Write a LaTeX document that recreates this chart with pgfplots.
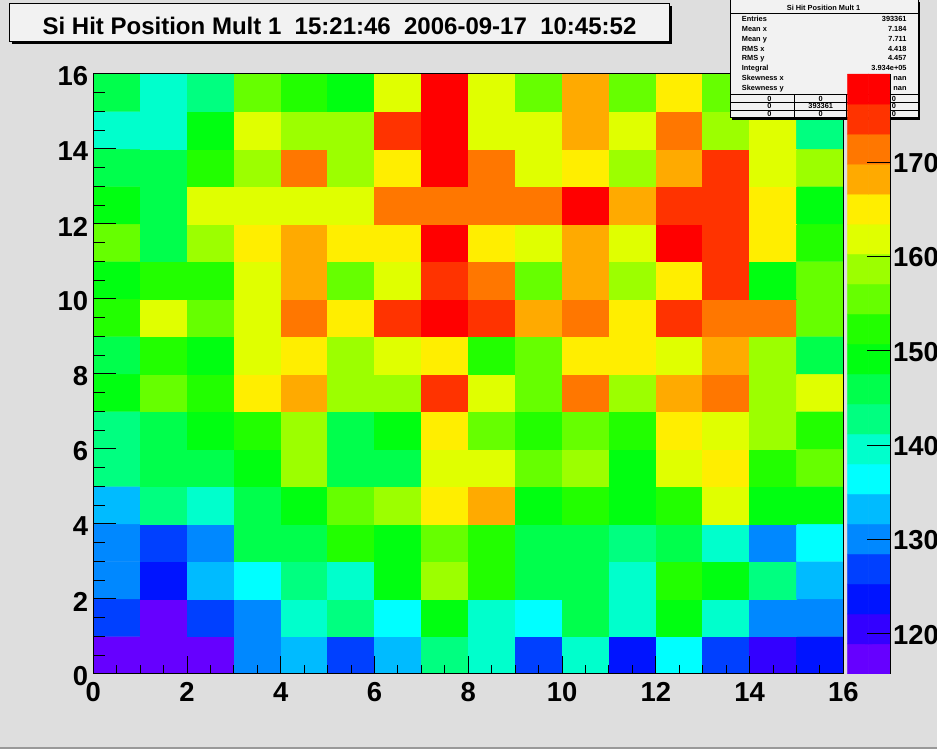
\documentclass[border=0pt]{standalone}
\usepackage{pgfplots}
\usepackage{pgfplotstable}
\pgfplotsset{compat=1.18}
\usepackage{fontspec}
\setmainfont{Liberation Sans}
\definecolor{canvasbg}{RGB}{222,222,222}
\definecolor{boxbg}{RGB}{242,242,242}
\pgfplotsset{colormap={rootpal}{rgb255=(102,0,255) rgb255=(51,0,255) rgb255=(0,20,255) rgb255=(0,64,255) rgb255=(0,136,255) rgb255=(0,187,255) rgb255=(0,255,255) rgb255=(0,255,204) rgb255=(0,255,128) rgb255=(0,255,76) rgb255=(0,255,17) rgb255=(34,255,0) rgb255=(102,255,0) rgb255=(156,255,0) rgb255=(224,255,0) rgb255=(255,238,0) rgb255=(255,170,0) rgb255=(255,119,0) rgb255=(255,51,0) rgb255=(255,0,0)}}

\pgfplotstableread[row sep=\\]{
x y c\\
0.5 0.5 117\\ 1.5 0.5 117\\ 2.5 0.5 117\\ 3.5 0.5 130\\ 4.5 0.5 133\\ 5.5 0.5 127\\ 6.5 0.5 133\\ 7.5 0.5 143\\ 8.5 0.5 140\\ 9.5 0.5 127\\ 10.5 0.5 140\\ 11.5 0.5 124\\ 12.5 0.5 136\\ 13.5 0.5 127\\ 14.5 0.5 121\\ 15.5 0.5 124\\
0.5 1.5 127\\ 1.5 1.5 117\\ 2.5 1.5 127\\ 3.5 1.5 130\\ 4.5 1.5 140\\ 5.5 1.5 143\\ 6.5 1.5 136\\ 7.5 1.5 149\\ 8.5 1.5 140\\ 9.5 1.5 136\\ 10.5 1.5 146\\ 11.5 1.5 140\\ 12.5 1.5 149\\ 13.5 1.5 140\\ 14.5 1.5 130\\ 15.5 1.5 130\\
0.5 2.5 130\\ 1.5 2.5 124\\ 2.5 2.5 133\\ 3.5 2.5 136\\ 4.5 2.5 143\\ 5.5 2.5 140\\ 6.5 2.5 149\\ 7.5 2.5 159\\ 8.5 2.5 152\\ 9.5 2.5 146\\ 10.5 2.5 146\\ 11.5 2.5 140\\ 12.5 2.5 152\\ 13.5 2.5 149\\ 14.5 2.5 143\\ 15.5 2.5 133\\
0.5 3.5 130\\ 1.5 3.5 127\\ 2.5 3.5 130\\ 3.5 3.5 146\\ 4.5 3.5 146\\ 5.5 3.5 152\\ 6.5 3.5 149\\ 7.5 3.5 156\\ 8.5 3.5 152\\ 9.5 3.5 146\\ 10.5 3.5 146\\ 11.5 3.5 143\\ 12.5 3.5 146\\ 13.5 3.5 140\\ 14.5 3.5 130\\ 15.5 3.5 136\\
0.5 4.5 133\\ 1.5 4.5 143\\ 2.5 4.5 140\\ 3.5 4.5 146\\ 4.5 4.5 149\\ 5.5 4.5 156\\ 6.5 4.5 159\\ 7.5 4.5 165\\ 8.5 4.5 168\\ 9.5 4.5 149\\ 10.5 4.5 152\\ 11.5 4.5 149\\ 12.5 4.5 152\\ 13.5 4.5 162\\ 14.5 4.5 149\\ 15.5 4.5 149\\
0.5 5.5 143\\ 1.5 5.5 146\\ 2.5 5.5 146\\ 3.5 5.5 149\\ 4.5 5.5 159\\ 5.5 5.5 146\\ 6.5 5.5 146\\ 7.5 5.5 162\\ 8.5 5.5 162\\ 9.5 5.5 156\\ 10.5 5.5 159\\ 11.5 5.5 149\\ 12.5 5.5 162\\ 13.5 5.5 165\\ 14.5 5.5 152\\ 15.5 5.5 156\\
0.5 6.5 143\\ 1.5 6.5 146\\ 2.5 6.5 149\\ 3.5 6.5 152\\ 4.5 6.5 159\\ 5.5 6.5 146\\ 6.5 6.5 149\\ 7.5 6.5 165\\ 8.5 6.5 156\\ 9.5 6.5 152\\ 10.5 6.5 156\\ 11.5 6.5 152\\ 12.5 6.5 165\\ 13.5 6.5 162\\ 14.5 6.5 159\\ 15.5 6.5 152\\
0.5 7.5 149\\ 1.5 7.5 156\\ 2.5 7.5 152\\ 3.5 7.5 165\\ 4.5 7.5 168\\ 5.5 7.5 159\\ 6.5 7.5 159\\ 7.5 7.5 175\\ 8.5 7.5 162\\ 9.5 7.5 156\\ 10.5 7.5 171\\ 11.5 7.5 159\\ 12.5 7.5 168\\ 13.5 7.5 171\\ 14.5 7.5 159\\ 15.5 7.5 162\\
0.5 8.5 146\\ 1.5 8.5 152\\ 2.5 8.5 149\\ 3.5 8.5 162\\ 4.5 8.5 165\\ 5.5 8.5 159\\ 6.5 8.5 162\\ 7.5 8.5 165\\ 8.5 8.5 152\\ 9.5 8.5 156\\ 10.5 8.5 165\\ 11.5 8.5 165\\ 12.5 8.5 162\\ 13.5 8.5 168\\ 14.5 8.5 159\\ 15.5 8.5 146\\
0.5 9.5 152\\ 1.5 9.5 162\\ 2.5 9.5 156\\ 3.5 9.5 162\\ 4.5 9.5 171\\ 5.5 9.5 165\\ 6.5 9.5 175\\ 7.5 9.5 178\\ 8.5 9.5 175\\ 9.5 9.5 168\\ 10.5 9.5 171\\ 11.5 9.5 165\\ 12.5 9.5 175\\ 13.5 9.5 171\\ 14.5 9.5 171\\ 15.5 9.5 156\\
0.5 10.5 149\\ 1.5 10.5 152\\ 2.5 10.5 152\\ 3.5 10.5 162\\ 4.5 10.5 168\\ 5.5 10.5 156\\ 6.5 10.5 162\\ 7.5 10.5 175\\ 8.5 10.5 171\\ 9.5 10.5 156\\ 10.5 10.5 168\\ 11.5 10.5 159\\ 12.5 10.5 165\\ 13.5 10.5 175\\ 14.5 10.5 149\\ 15.5 10.5 156\\
0.5 11.5 156\\ 1.5 11.5 146\\ 2.5 11.5 159\\ 3.5 11.5 165\\ 4.5 11.5 168\\ 5.5 11.5 165\\ 6.5 11.5 165\\ 7.5 11.5 178\\ 8.5 11.5 165\\ 9.5 11.5 162\\ 10.5 11.5 168\\ 11.5 11.5 162\\ 12.5 11.5 178\\ 13.5 11.5 175\\ 14.5 11.5 165\\ 15.5 11.5 152\\
0.5 12.5 149\\ 1.5 12.5 146\\ 2.5 12.5 162\\ 3.5 12.5 162\\ 4.5 12.5 162\\ 5.5 12.5 162\\ 6.5 12.5 171\\ 7.5 12.5 171\\ 8.5 12.5 171\\ 9.5 12.5 171\\ 10.5 12.5 178\\ 11.5 12.5 168\\ 12.5 12.5 175\\ 13.5 12.5 175\\ 14.5 12.5 165\\ 15.5 12.5 149\\
0.5 13.5 146\\ 1.5 13.5 146\\ 2.5 13.5 152\\ 3.5 13.5 159\\ 4.5 13.5 171\\ 5.5 13.5 159\\ 6.5 13.5 165\\ 7.5 13.5 178\\ 8.5 13.5 171\\ 9.5 13.5 162\\ 10.5 13.5 165\\ 11.5 13.5 159\\ 12.5 13.5 168\\ 13.5 13.5 175\\ 14.5 13.5 162\\ 15.5 13.5 159\\
0.5 14.5 140\\ 1.5 14.5 140\\ 2.5 14.5 149\\ 3.5 14.5 162\\ 4.5 14.5 159\\ 5.5 14.5 159\\ 6.5 14.5 175\\ 7.5 14.5 178\\ 8.5 14.5 162\\ 9.5 14.5 162\\ 10.5 14.5 168\\ 11.5 14.5 162\\ 12.5 14.5 171\\ 13.5 14.5 159\\ 14.5 14.5 162\\ 15.5 14.5 143\\
0.5 15.5 146\\ 1.5 15.5 140\\ 2.5 15.5 143\\ 3.5 15.5 156\\ 4.5 15.5 152\\ 5.5 15.5 149\\ 6.5 15.5 162\\ 7.5 15.5 178\\ 8.5 15.5 162\\ 9.5 15.5 156\\ 10.5 15.5 168\\ 11.5 15.5 156\\ 12.5 15.5 165\\ 13.5 15.5 156\\ 14.5 15.5 162\\ 15.5 15.5 156\\
}\hits

\pgfplotstableread[row sep=\\]{
x y c\\
0.25 117.33 117.33\\ 0.75 117.33 117.33\\
0.25 120.51 120.51\\ 0.75 120.51 120.51\\
0.25 123.69 123.69\\ 0.75 123.69 123.69\\
0.25 126.87 126.87\\ 0.75 126.87 126.87\\
0.25 130.05 130.05\\ 0.75 130.05 130.05\\
0.25 133.23 133.23\\ 0.75 133.23 133.23\\
0.25 136.41 136.41\\ 0.75 136.41 136.41\\
0.25 139.59 139.59\\ 0.75 139.59 139.59\\
0.25 142.77 142.77\\ 0.75 142.77 142.77\\
0.25 145.95 145.95\\ 0.75 145.95 145.95\\
0.25 149.13 149.13\\ 0.75 149.13 149.13\\
0.25 152.31 152.31\\ 0.75 152.31 152.31\\
0.25 155.49 155.49\\ 0.75 155.49 155.49\\
0.25 158.67 158.67\\ 0.75 158.67 158.67\\
0.25 161.85 161.85\\ 0.75 161.85 161.85\\
0.25 165.03 165.03\\ 0.75 165.03 165.03\\
0.25 168.21 168.21\\ 0.75 168.21 168.21\\
0.25 171.39 171.39\\ 0.75 171.39 171.39\\
0.25 174.57 174.57\\ 0.75 174.57 174.57\\
0.25 177.75 177.75\\ 0.75 177.75 177.75\\
}\palette

\newcommand{\bigfont}{\fontsize{27.5}{27.5}\selectfont\bfseries}
\newcommand{\statfont}{\fontsize{7.4}{7.4}\selectfont\bfseries}

\begin{document}
\begin{tikzpicture}[x=1bp,y=1bp]
\fill[canvasbg] (0,0) rectangle (937,749);
\fill[black!40] (0,0) rectangle (937,2.3);
\useasboundingbox (0,0) rectangle (937,749);

\begin{axis}[
  at={(93.3bp,75bp)}, anchor=south west,
  scale only axis, width=750bp, height=600bp,
  xmin=0, xmax=16, ymin=0, ymax=16,
  xtick={0,2,...,16}, ytick={0,2,...,16},
  tick style={draw=none},
  axis on top,
  axis line style={line width=1bp},
  /pgf/number format/assume math mode=true,
  xticklabel style={font=\bigfont, inner sep=0pt, anchor=north, yshift=-8bp},
  yticklabel style={font=\bigfont, inner sep=0pt, anchor=east, xshift=-5bp, yshift=-2.5bp},
  colormap name=rootpal,
  colormap access=piecewise constant,
  point meta min=115.74, point meta max=179.35,
  after end axis/.code={
    \foreach \t in {0,2,...,16} {\draw[line width=1bp] (axis cs:\t,0) -- ++(0,18bp);}
    \foreach \t in {0.5,1,...,15.5} {\draw[line width=1bp] (axis cs:\t,0) -- ++(0,9bp);}
    \foreach \t in {0,2,...,16} {\draw[line width=1bp] (axis cs:0,\t) -- ++(22.5bp,0);}
    \foreach \t in {0.5,1,...,15.5} {\draw[line width=1bp] (axis cs:0,\t) -- ++(11.25bp,0);}
  },
]
\addplot[matrix plot*, mesh/cols=16, point meta=explicit] table[x=x, y=y, meta=c] {\hits};
\end{axis}

% title box
\fill[black] (11.5,742.5) rectangle (671.5,704.5);
\filldraw[fill=boxbg, draw=black, line width=1bp] (9,745) rectangle (669,707);
\node[font=\fontsize{24.1}{24.1}\selectfont\bfseries, anchor=base, inner sep=0pt] at (339.5,714) {Si Hit Position Mult 1\ \ 15:21:46\ \ 2006-09-17\ \ 10:45:52};

% stats box
\fill[black] (732,747) rectangle (920,629);
\filldraw[fill=boxbg, draw=black, line width=1bp] (730,750) rectangle (918,631);
\draw[line width=0.8bp] (730,735.7) -- (918,735.7);
\draw[line width=0.8bp] (730,654.7) -- (918,654.7);
\draw[line width=0.8bp] (730,646.3) -- (918,646.3);
\draw[line width=0.8bp] (730,638.7) -- (918,638.7);
\draw[line width=0.8bp] (794,654.7) -- (794,631);
\draw[line width=0.8bp] (846.7,654.7) -- (846.7,631);
\begin{scope}[every node/.style={font=\statfont, inner sep=0pt, text height=5.3bp, text depth=0pt}]
\node at (823.5,741) {Si Hit Position Mult 1};
\node[anchor=west] at (741.7,730.3) {Entries};
\node[anchor=west] at (741.7,720.4) {Mean x};
\node[anchor=west] at (741.7,710.5) {Mean y};
\node[anchor=west] at (741.7,700.6) {RMS x};
\node[anchor=west] at (741.7,690.7) {RMS y};
\node[anchor=west] at (741.7,680.8) {Integral};
\node[anchor=west] at (741.7,670.9) {Skewness x};
\node[anchor=west] at (741.7,661.0) {Skewness y};
\node[anchor=east] at (906.7,730.3) {393361};
\node[anchor=east] at (906.7,720.4) {7.184};
\node[anchor=east] at (906.7,710.5) {7.711};
\node[anchor=east] at (906.7,700.6) {4.418};
\node[anchor=east] at (906.7,690.7) {4.457};
\node[anchor=east] at (906.7,680.8) {3.934e+05};
\node[anchor=east] at (906.7,670.9) {nan};
\node[anchor=east] at (906.7,661.0) {nan};
\node at (769.3,650.3) {0}; \node at (820.7,650.3) {0}; \node[anchor=west] at (891.7,650.3) {0};
\node at (769.3,642.7) {0}; \node at (820.7,642.7) {393361}; \node[anchor=west] at (891.7,642.7) {0};
\node at (769.3,635) {0}; \node at (820.7,635) {0}; \node[anchor=west] at (891.7,635) {0};
\end{scope}

% palette axis
\begin{axis}[
  at={(847.3bp,75bp)}, anchor=south west,
  scale only axis, width=42.7bp, height=600bp,
  xmin=0, xmax=1, ymin=115.74, ymax=179.35,
  axis x line=none, axis y line*=right,
  y axis line style={-, line width=1bp},
  ytick={120,130,...,170},
  ytick align=inside, major tick length=23bp,
  ytick style={line width=1bp, black},
  axis on top,
  /pgf/number format/assume math mode=true,
  yticklabel style={font=\bigfont, inner sep=0pt, anchor=west, xshift=3bp, yshift=-1bp},
  colormap name=rootpal,
  colormap access=piecewise constant,
  point meta min=115.74, point meta max=179.35,
]
\addplot[matrix plot*, mesh/cols=2, point meta=explicit] table[x=x, y=y, meta=c] {\palette};
\end{axis}
\end{tikzpicture}
\end{document}
